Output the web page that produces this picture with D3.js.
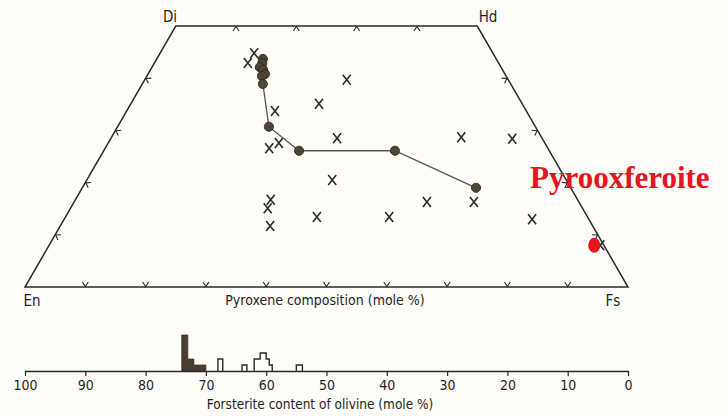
<!DOCTYPE html>
<html>
<head>
<meta charset="utf-8">
<script src="https://cdn.jsdelivr.net/npm/d3@7"></script>
<style>
  body { margin: 0; background: #fefdf9; }
  svg text { font-family: "Liberation Sans Narrow", "DejaVu Sans Condensed", "Liberation Sans", sans-serif; fill: #1f1f1f; }
</style>
</head>
<body>
<div id="chart"></div>
<script>
// pyroxene quadrilateral (Wo, Fs in mole %)
const crossWo = [44.8, 42.9, 39.7, 35.1, 33.7, 28.5, 28.7, 26.6, 27.6, 28.4, 20.5, 16.7, 15.1, 11.7, 13.4, 13.4, 16.3, 16.3, 13.0, 8.0];
const crossFs = [15.6, 15.5, 33.5, 31.2, 24.6, 37.5, 58.0, 27.2, 28.3, 66.6, 40.7, 32.4, 32.7, 34.8, 41.7, 53.7, 58.5, 66.3, 77.6, 91.4];

const trendWo = [43.7, 42.9, 42.1, 41.6, 40.8, 40.4, 38.9, 30.7, 26.1, 26.1, 19.0];
const trendFs = [17.6, 17.9, 17.9, 18.7, 19.4, 19.1, 20.0, 25.1, 32.4, 48.3, 65.3];

const pxfWo = [8.0];
const pxfFs = [90.4];
const pxfLabel = 'Pyrooxferoite';

const edgeTicks = [10, 20, 30, 40];
const baseTicks = [10, 20, 30, 40, 50, 60, 70, 80, 90];

// olivine histogram, bins grouped into outlined blocks
const histFoHi = [74, 73, 72, 71, 68, 64, 62, 61, 60, 59.5, 55];
const histFoLo = [73, 72, 71, 70, 67.2, 63.2, 61, 60, 59.5, 59, 54];
const histCount = [6, 2, 1, 1, 2, 1, 2, 3, 2, 1, 1];
const histGroup = [0, 0, 0, 0, 1, 2, 3, 3, 3, 3, 4];
const groupDark = [true, false, false, false, false];
const foTicks = [100, 90, 80, 70, 60, 50, 40, 30, 20, 10, 0];

const width = 728;
const height = 416;
const ink = '#2a2a2a';

const svg = d3.select('#chart')
    .append('svg')
    .attr('width', width)
    .attr('height', height);

// position along En-Fs (Fs + Wo/2) and Wo height
const xScale = d3.scaleLinear().domain([0, 100]).range([25, 628]);
const yScale = d3.scaleLinear().domain([0, 50]).range([287, 26]);
const px = (wo, fs) => xScale(fs + wo / 2);
const py = wo => yScale(wo);

// outline
const corners = [[0, 0], [0, 100], [50, 50], [50, 0]];
svg.append('path')
    .attr('d', d3.line()(corners.map(c => [px(c[0], c[1]), py(c[0])])) + 'Z')
    .attr('fill', 'none')
    .attr('stroke', ink)
    .attr('stroke-width', 1.5);

// chevron ticks on the edges, pointing outward
const tickPts = [];
baseTicks.forEach(t => tickPts.push({ wo: 0, fs: t, nx: 0, ny: 1 }));
edgeTicks.forEach(t => tickPts.push({ wo: 50, fs: t, nx: 0, ny: -1 }));
edgeTicks.forEach(t => tickPts.push({ wo: t, fs: 0, nx: -0.866, ny: -0.5 }));
edgeTicks.forEach(t => tickPts.push({ wo: t, fs: 100 - t, nx: 0.866, ny: -0.5 }));

svg.selectAll('path.tick')
    .data(tickPts)
    .enter()
    .append('path')
    .attr('class', 'tick')
    .attr('d', d => {
        const x = px(d.wo, d.fs), y = py(d.wo);
        const tx = -d.ny, ty = d.nx;
        const a = [x - d.nx * 5 + tx * 3, y - d.ny * 5 + ty * 3];
        const b = [x - d.nx * 5 - tx * 3, y - d.ny * 5 - ty * 3];
        return `M${a[0]},${a[1]}L${x - d.nx * 0.5},${y - d.ny * 0.5}L${b[0]},${b[1]}`;
    })
    .attr('fill', 'none')
    .attr('stroke', ink)
    .attr('stroke-width', 1.1);

// corner labels
svg.append('text').attr('x', 170).attr('y', 22).attr('text-anchor', 'middle').attr('font-size', 15).text('Di');
svg.append('text').attr('x', 488).attr('y', 22).attr('text-anchor', 'middle').attr('font-size', 15).text('Hd');
svg.append('text').attr('x', 32).attr('y', 306).attr('text-anchor', 'middle').attr('font-size', 15).text('En');
svg.append('text').attr('x', 613).attr('y', 306).attr('text-anchor', 'middle').attr('font-size', 15).text('Fs');
svg.append('text').attr('x', 325).attr('y', 305).attr('text-anchor', 'middle').attr('font-size', 14).text('Pyroxene composition (mole %)');

// crosses
const crosses = svg.selectAll('g.cross')
    .data(crossWo.map((w, i) => [w, crossFs[i]]))
    .enter()
    .append('g')
    .attr('class', 'cross')
    .attr('transform', d => `translate(${px(d[0], d[1])},${py(d[0])})`);

crosses.append('path')
    .attr('d', 'M-4,-5L4,5M4,-5L-4,5')
    .attr('stroke', ink)
    .attr('stroke-width', 1.6);

// trend line and filled circles
const trend = trendWo.map((w, i) => [px(w, trendFs[i]), py(w)]);
svg.append('path')
    .attr('d', d3.line()(trend))
    .attr('fill', 'none')
    .attr('stroke', '#555')
    .attr('stroke-width', 1.3);

svg.selectAll('circle.trend')
    .data(trend)
    .enter()
    .append('circle')
    .attr('class', 'trend')
    .attr('cx', d => d[0])
    .attr('cy', d => d[1])
    .attr('r', 4.6)
    .attr('fill', '#4d4536')
    .attr('stroke', '#2b261e')
    .attr('stroke-width', 0.8);

// pyroxferroite point
svg.selectAll('ellipse.pxf')
    .data(pxfWo.map((w, i) => [w, pxfFs[i]]))
    .enter()
    .append('ellipse')
    .attr('class', 'pxf')
    .attr('cx', d => px(d[0], d[1]))
    .attr('cy', d => py(d[0]))
    .attr('rx', 6)
    .attr('ry', 7.5)
    .attr('fill', '#e8141c');

svg.append('text')
    .attr('x', 530)
    .attr('y', 188)
    .attr('font-size', 31)
    .attr('font-weight', 'bold')
    .style('font-family', '"Liberation Serif", "DejaVu Serif", serif')
    .style('fill', '#e8141c')
    .text(pxfLabel);

// olivine histogram
const foScale = d3.scaleLinear().domain([100, 0]).range([25, 628]);
const countScale = d3.scaleLinear().domain([0, 6]).range([371, 335]);

const groups = d3.groups(histCount.map((c, i) => ({ hi: histFoHi[i], lo: histFoLo[i], n: c, g: histGroup[i] })), d => d.g);

svg.selectAll('path.bin')
    .data(groups)
    .enter()
    .append('path')
    .attr('class', 'bin')
    .attr('d', ([g, bins]) => {
        const p = d3.path();
        p.moveTo(foScale(bins[0].hi), countScale(0));
        bins.forEach(b => {
            p.lineTo(foScale(b.hi), countScale(b.n));
            p.lineTo(foScale(b.lo), countScale(b.n));
        });
        p.lineTo(foScale(bins[bins.length - 1].lo), countScale(0));
        return p.toString();
    })
    .attr('fill', ([g]) => groupDark[g] ? '#4a3f2e' : 'none')
    .attr('stroke', ([g]) => groupDark[g] ? '#3a3226' : ink)
    .attr('stroke-width', ([g]) => groupDark[g] ? 0.8 : 1.4);

const foAxis = d3.axisBottom(foScale)
    .tickValues(foTicks)
    .tickSize(5)
    .tickSizeOuter(0)
    .tickPadding(4);

const gAxis = svg.append('g')
    .attr('transform', 'translate(0,371)')
    .call(foAxis);

gAxis.select('.domain').attr('stroke', ink).attr('stroke-width', 1.5);
gAxis.selectAll('.tick line').attr('stroke', ink).attr('stroke-width', 1.2);
gAxis.selectAll('.tick text')
    .attr('font-size', 14)
    .attr('fill', ink)
    .style('font-family', '"Liberation Sans Narrow", "DejaVu Sans Condensed", sans-serif');

svg.append('text').attr('x', 320).attr('y', 409).attr('text-anchor', 'middle').attr('font-size', 13.5).text('Forsterite content of olivine (mole %)');
</script>
</body>
</html>
